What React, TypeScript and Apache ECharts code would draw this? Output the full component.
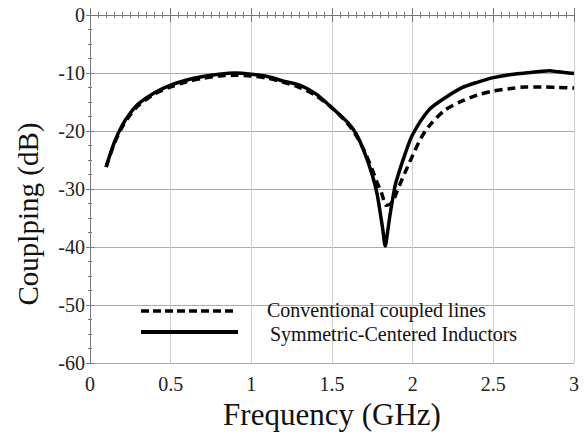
import React, { useEffect, useRef } from "react";
import * as echarts from "echarts";

const freqSolid = [0.1, 0.15, 0.2, 0.25, 0.3, 0.4, 0.5, 0.6, 0.7, 0.8, 0.9, 1.0, 1.1, 1.2, 1.3, 1.4, 1.5, 1.6, 1.65, 1.7, 1.75, 1.78, 1.8, 1.815, 1.83, 1.845, 1.86, 1.887, 1.9, 1.95, 2.0, 2.1, 2.2, 2.3, 2.4, 2.5, 2.6, 2.7, 2.8, 2.85, 2.9, 3.0];
const symmetricCentered = [-26.2, -22.0, -19.0, -16.9, -15.3, -13.4, -12.1, -11.2, -10.6, -10.2, -10.0, -10.2, -10.6, -11.4, -12.1, -13.6, -16.0, -18.6, -20.5, -23.6, -27.6, -30.9, -34.3, -37.0, -39.8, -37.3, -34.4, -30.0, -28.5, -24.2, -20.6, -16.4, -14.3, -12.6, -11.6, -10.8, -10.3, -10.0, -9.7, -9.6, -9.8, -10.1];

const freqDashed = [0.1, 0.15, 0.2, 0.25, 0.3, 0.4, 0.5, 0.6, 0.7, 0.8, 0.9, 1.0, 1.1, 1.2, 1.3, 1.4, 1.5, 1.6, 1.65, 1.7, 1.75, 1.78, 1.81, 1.835, 1.86, 1.88, 1.9, 1.93, 1.96, 2.0, 2.05, 2.1, 2.2, 2.3, 2.4, 2.5, 2.6, 2.7, 2.8, 2.9, 3.0];
const conventional = [-26.2, -22.2, -19.3, -17.2, -15.6, -13.6, -12.4, -11.5, -10.9, -10.5, -10.4, -10.5, -10.9, -11.6, -12.5, -13.9, -16.0, -18.8, -20.8, -23.4, -26.7, -28.9, -30.9, -32.8, -32.6, -32.0, -30.6, -28.6, -26.7, -24.2, -21.3, -19.2, -16.4, -14.9, -13.8, -13.1, -12.7, -12.4, -12.4, -12.5, -12.6];

const legendNames = ["Conventional coupled lines", "Symmetric-Centered Inductors"];
const xTitle = "Frequency (GHz)";
const yTitle = "Couplping (dB)";

const FONT = "Liberation Serif";

export default function App() {
  const ref = useRef<HTMLDivElement>(null);
  useEffect(() => {
    if (!ref.current) return;
    const chart = echarts.init(ref.current, null, { renderer: "svg" });
    const axisLineStyle = { color: "#777", width: 1 };
    chart.setOption({
      animation: false,
      backgroundColor: "#fff",
      textStyle: { fontFamily: FONT },
      grid: { left: 90, right: 12, top: 15, bottom: 64, containLabel: false },
      xAxis: [
        {
          type: "value",
          min: 0,
          max: 3,
          interval: 0.5,
          position: "bottom",
          name: xTitle,
          nameLocation: "middle",
          nameGap: 27,
          nameTextStyle: { fontFamily: FONT, fontSize: 31, color: "#111", verticalAlign: "top" },
          axisLine: { show: true, lineStyle: axisLineStyle },
          axisTick: { show: true, inside: true, length: 7, lineStyle: axisLineStyle },
          minorTick: { show: true, splitNumber: 10, length: 3, lineStyle: axisLineStyle },
          axisLabel: {
            fontFamily: FONT,
            fontSize: 20,
            color: "#222",
            margin: 11,
          },
          splitLine: { show: true, lineStyle: { color: "#cfcfcf", width: 1 } },
        },
        {
          type: "value",
          min: 0,
          max: 3,
          interval: 0.5,
          position: "top",
          axisLine: { show: true, lineStyle: axisLineStyle },
          axisTick: { show: true, inside: true, length: 7, lineStyle: axisLineStyle },
          minorTick: { show: true, splitNumber: 10, length: 3, lineStyle: axisLineStyle },
          axisLabel: { show: false },
          splitLine: { show: false },
        },
      ],
      yAxis: [
        {
          type: "value",
          min: -60,
          max: 0,
          interval: 10,
          position: "left",
          name: yTitle,
          nameLocation: "middle",
          nameGap: 48,
          nameTextStyle: { fontFamily: FONT, fontSize: 29, color: "#111", padding: [0, 50, 0, 0] },
          axisLine: { show: false },
          axisTick: { show: true, inside: true, length: 4, lineStyle: axisLineStyle },
          minorTick: { show: true, splitNumber: 4, length: 2, lineStyle: axisLineStyle },
          axisLabel: {
            fontFamily: FONT,
            fontSize: 20,
            color: "#222",
            margin: 5,
          },
          splitLine: { show: true, lineStyle: { color: "#ababab", width: 1 } },
        },
        {
          type: "value",
          min: -60,
          max: 0,
          interval: 10,
          position: "right",
          axisLine: { show: true, lineStyle: axisLineStyle },
          axisTick: { show: true, inside: true, length: 4, lineStyle: axisLineStyle },
          minorTick: { show: true, splitNumber: 4, length: 2, lineStyle: axisLineStyle },
          axisLabel: { show: false },
          splitLine: { show: false },
        },
      ],
      series: [
        {
          name: legendNames[0],
          type: "line",
          xAxisIndex: 0,
          yAxisIndex: 0,
          data: freqDashed.map((f, i) => [f, conventional[i]]),
          showSymbol: false,
          symbol: "none",
          smooth: 0.3,
          lineStyle: { color: "#000", width: 3.5, type: [8, 5] },
          z: 3,
        },
        {
          name: legendNames[1],
          type: "line",
          xAxisIndex: 0,
          yAxisIndex: 0,
          data: freqSolid.map((f, i) => [f, symmetricCentered[i]]),
          showSymbol: false,
          symbol: "none",
          smooth: 0.3,
          lineStyle: { color: "#000", width: 3.5, type: "solid" },
          z: 4,
        },
      ],
      graphic: [
        {
          type: "line",
          shape: { x1: 141, y1: 311, x2: 237, y2: 311 },
          style: { stroke: "#000", lineWidth: 3.5, lineDash: [8, 4] },
          z: 10,
        },
        {
          type: "line",
          shape: { x1: 141, y1: 332, x2: 238, y2: 332 },
          style: { stroke: "#000", lineWidth: 4 },
          z: 10,
        },
        {
          type: "text",
          x: 267,
          y: 310,
          style: {
            text: legendNames[0],
            fontFamily: FONT,
            fontSize: 20,
            fill: "#111",
            verticalAlign: "middle",
            align: "left",
          },
          z: 10,
        },
        {
          type: "text",
          x: 270,
          y: 334,
          style: {
            text: legendNames[1],
            fontFamily: FONT,
            fontSize: 20,
            fill: "#111",
            verticalAlign: "middle",
            align: "left",
          },
          z: 10,
        },
      ],
    });
    return () => chart.dispose();
  }, []);
  return (
    <div
      ref={ref}
      style={{ position: "fixed", left: 0, top: 0, width: 586, height: 435, background: "#fff" }}
    />
  );
}
